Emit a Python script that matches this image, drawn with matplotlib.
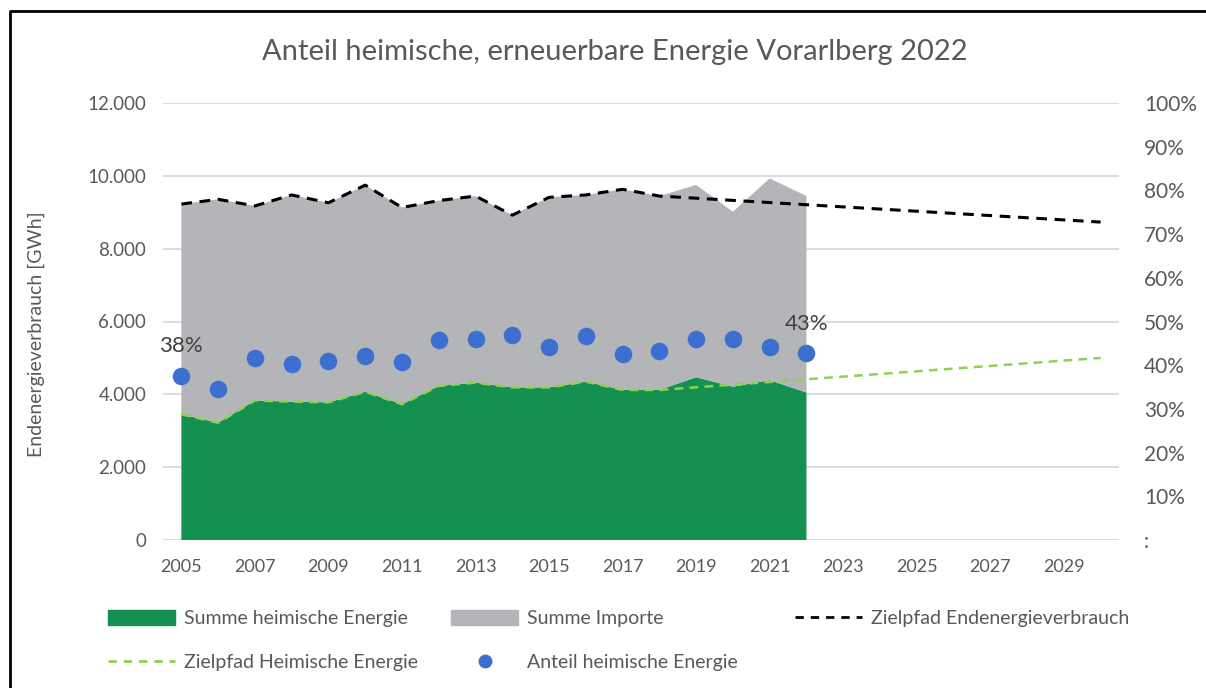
import matplotlib.pyplot as plt
from matplotlib.lines import Line2D
from matplotlib.patches import Patch

plt.rcParams['font.family'] = ['Lato', 'DejaVu Sans']

# data
years = list(range(2005, 2023))
heimisch = [3450, 3220, 3830, 3800, 3780, 4070, 3730, 4230, 4320,
            4190, 4190, 4350, 4120, 4120, 4470, 4210, 4390, 4050]
importe = [5775, 6135, 5345, 5675, 5480, 5675, 5400, 5090, 5125,
           4730, 5220, 5125, 5510, 5325, 5280, 4805, 5540, 5395]
anteil = [0.376, 0.346, 0.416, 0.402, 0.410, 0.422, 0.407, 0.457, 0.459,
          0.469, 0.442, 0.467, 0.425, 0.433, 0.460, 0.460, 0.442, 0.428]

ziel_end_years = list(range(2005, 2019)) + [2030]
ziel_end = [9225, 9355, 9175, 9475, 9260, 9745, 9130, 9320, 9445,
            8920, 9410, 9475, 9630, 9445, 8730]
ziel_heim_years = list(range(2005, 2019)) + [2030]
ziel_heim = [3450, 3220, 3830, 3800, 3780, 4070, 3730, 4230, 4320,
             4190, 4190, 4350, 4120, 4120, 5000]

xticks = list(range(2005, 2030, 2))
yticks = [0, 2000, 4000, 6000, 8000, 10000, 12000]
yticklabels = ['0', '2.000', '4.000', '6.000', '8.000', '10.000', '12.000']
pticks = [i / 10 for i in range(11)]
pticklabels = [':'] + ['%d%%' % (i * 10) for i in range(1, 11)]

c_green = '#149150'
c_gray = '#b4b5b8'
c_blue = '#3d6fd1'
c_lgreen = '#92d050'
c_text = '#595959'

fig = plt.figure(figsize=(12.06, 6.88), dpi=100)
ax = fig.add_axes([163 / 1206, 1 - 540 / 688, 956 / 1206, 437 / 688])

ax.stackplot(years, heimisch, importe, colors=[c_green, c_gray], linewidth=0)
ax.plot(ziel_end_years, ziel_end, color='black', ls=(0, (3.5, 2.5)), lw=2.2)
ax.plot(ziel_heim_years, ziel_heim, color=c_lgreen, ls=(0, (3.5, 2.5)), lw=1.8)

ax.set_xlim(2004.5, 2030.5)
ax.set_ylim(0, 12000)
ax.set_xticks(xticks)
ax.set_xticklabels([str(y) for y in xticks], fontsize=13, color=c_text)
ax.set_yticks(yticks)
ax.set_yticklabels(yticklabels, fontsize=13.5, color=c_text)
ax.tick_params(length=0, pad=12)
ax.tick_params(axis='x', pad=14)
ax.grid(axis='y', color='#d9d9d9', lw=1.3)
ax.set_axisbelow(True)
for s in ax.spines.values():
    s.set_visible(False)
ax.set_ylabel('Endenergieverbrauch [GWh]', fontsize=14, color=c_text, va='center')
ax.yaxis.set_label_coords(-0.133, 0.471)

ax2 = ax.twinx()
ax2.scatter(years, anteil, s=135, color=c_blue, zorder=5)
ax2.set_ylim(0, 1)
ax2.set_yticks(pticks)
ax2.set_yticklabels(pticklabels, fontsize=15, color=c_text)
ax2.tick_params(length=0, pad=18)
for s in ax2.spines.values():
    s.set_visible(False)
for i in [0, len(years) - 1]:
    ax2.annotate('%d%%' % round(anteil[i] * 100), (years[i], anteil[i]),
                 xytext=(0, 14), textcoords='offset points', ha='center',
                 va='bottom', fontsize=16, color='#404040')

fig.text(615 / 1206, 1 - 52 / 688, 'Anteil heimische, erneuerbare Energie Vorarlberg 2022',
         ha='center', va='center', fontsize=21, color=c_text)

# legend, three columns like the original
h_heim = Patch(color=c_green)
h_imp = Patch(color=c_gray)
h_zend = Line2D([], [], color='black', ls=(0, (3, 2.5)), lw=2)
h_zheim = Line2D([], [], color=c_lgreen, ls=(0, (3, 2.5)), lw=2)
h_ant = Line2D([], [], color=c_blue, marker='o', ls='none', markersize=9)
cols = [([h_heim, h_zheim], ['Summe heimische Energie', 'Zielpfad Heimische Energie'], 108),
        ([h_imp, h_ant], ['Summe Importe', 'Anteil heimische Energie'], 451),
        ([h_zend], ['Zielpfad Endenergieverbrauch'], 795)]
for hs, ls_, x0 in cols:
    leg = fig.legend(hs, ls_, loc='upper left', bbox_to_anchor=(x0 / 1206, 1 - 610 / 688),
                     frameon=False, fontsize=14, handlelength=3.45, handleheight=0.8,
                     handletextpad=0.45, labelspacing=1.35, borderpad=0, borderaxespad=0)
    for t in leg.get_texts():
        t.set_color(c_text)

# frame around the chart
fig.add_artist(Line2D([10 / 1206, 10 / 1206, 1], [0, 1 - 11 / 688, 1 - 11 / 688],
                      color='black', lw=2, transform=fig.transFigure))

fig.savefig('out.png', dpi=100)
